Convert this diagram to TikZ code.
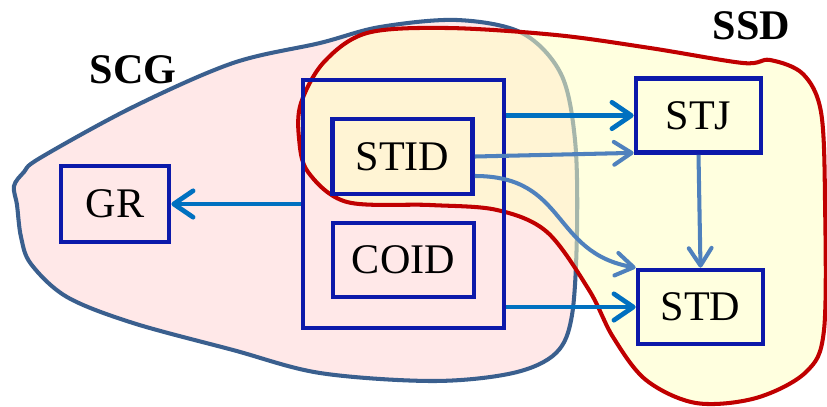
\documentclass[tikz,border=0pt]{standalone}
\usepackage{fontspec}
\setmainfont{Liberation Serif}
\usepackage{tikz}
\usetikzlibrary{arrows.meta,positioning,calc}
\definecolor{pbox}{HTML}{0C19AA}
\definecolor{parrow}{HTML}{0070C0}
\definecolor{plight}{HTML}{4F81BD}
\definecolor{pscg}{HTML}{3A5F8E}
\definecolor{pred}{HTML}{C00000}
\definecolor{ppink}{HTML}{FFE8E8}
\definecolor{pyellow}{HTML}{FFFFC4}

\begin{document}
\begin{tikzpicture}[x=0.02cm,y=-0.02cm,
    font=\fontsize{24}{28}\selectfont,
    box/.style={draw=pbox,line width=2.7pt,inner sep=0pt,
                minimum width=2.5cm,minimum height=1.48cm},
    region/.style={line width=2.3pt},
    tag/.style={font=\fontsize{24}{28}\selectfont\bfseries},
    link/.style={draw=parrow,line width=2.7pt,
                 -{Straight Barb[length=11pt,width=15pt,round]}},
    sublink/.style={draw=plight,line width=2.3pt,
                    -{Straight Barb[length=10pt,width=13pt,round]}}]

      \useasboundingbox (0,0) rectangle (827,406);

      % SCG region
      \filldraw[region,fill=ppink,draw=pscg] plot[smooth cycle,tension=0.55] coordinates {
        (14,186) (17,205) (21,237) (31,264) (67,297) (133,323) (233,350)
        (320,373) (433,381) (513,373) (556,353) (572,315) (577,230)
        (575,140) (561,74) (522,33) (457,20) (380,27) (320,43) (233,63)
        (133,107) (40,158) (24,172)};

      % SSD region
      \filldraw[region,fill=pyellow,fill opacity=0.55,draw=pred] plot[smooth cycle,tension=0.55] coordinates {
        (301,103) (299,138) (308,172) (347,202) (430,205) (497,210) (547,232)
        (589,290) (613,337) (646,380) (696,403) (756,398) (806,372)
        (824,330) (825,200) (821,112) (803,74) (770,60) (743,63)
        (650,48) (556,35) (447,28) (367,33) (324,62)};

      \node[tag] (scg) at (133,70) {SCG};
      \node[tag] (ssd) at (751.5,26) {SSD};

      % boxes
      \node[box,minimum width=2.16cm,minimum height=1.52cm] (gr) at (115,204) {GR};
      \node[box,minimum width=4.02cm,minimum height=4.96cm] (outer) at (403.5,204) {};
      \node[box,minimum width=2.8cm,minimum height=1.5cm] (stid) at (402.5,156.5) {STID};
      \node[box,minimum width=2.82cm,minimum height=1.48cm] (coid) at (403.5,260) {COID};
      \node[box] (stj) at (698.5,115.5) {STJ};
      \node[box] (std) at (700.5,307) {STD};

      % arrows
      \draw[link] (outer.west) -- (gr.east);
      \draw[link] (outer.east |- stj) -- (stj.west);
      \draw[sublink] (stid.east) -- ([yshift=0.04cm]stj.south west);
      \draw[sublink] ([yshift=-0.39cm]stid.east)
        .. controls ([xshift=1.86cm,yshift=-0.39cm]stid.east) and ([xshift=-1.7cm,yshift=0.3cm]std.north west)
        .. (std.north west);
      \draw[link] (outer.east |- std) -- (std.west);
      \draw[sublink] (stj.south) -- (std.north);

    \end{tikzpicture}
\end{document}
